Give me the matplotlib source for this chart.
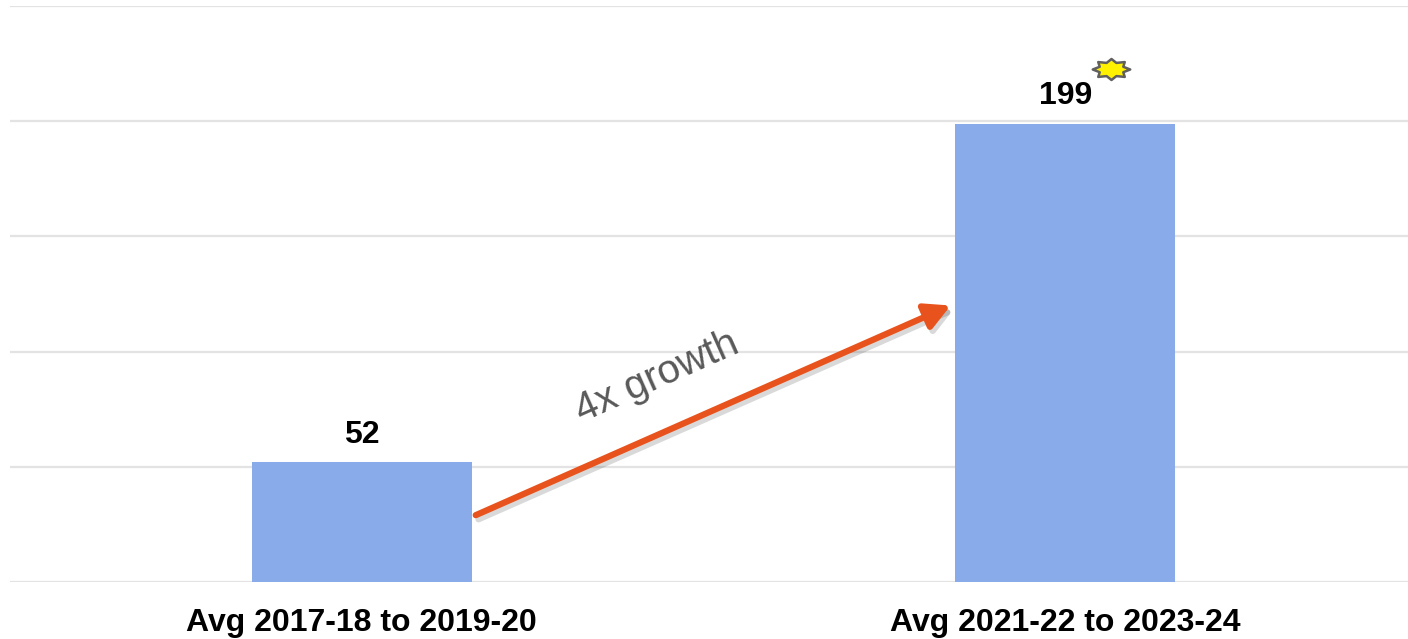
import matplotlib
matplotlib.use("Agg")
import matplotlib.pyplot as plt
import numpy as np
from matplotlib.path import Path
import matplotlib.patheffects as pe

categories = ["Avg 2017-18 to 2019-20", "Avg 2021-22 to 2023-24"]
values = [52, 199]
growth_label = "4x growth"

plt.rcParams['font.family'] = ['Liberation Sans', 'DejaVu Sans']

fig = plt.figure(figsize=(14.08, 6.39), dpi=100)
ax = fig.add_axes([10/1408, 57/639, 1407/1408, 576/639])

x = np.arange(len(categories))
ax.bar(x, values, width=0.3125, color='#8AABEA', zorder=2)
ax.set_xlim(-0.5, 1.5)
ax.set_ylim(0, 250)
ax.set_yticks(np.arange(0, 251, 50))
ax.yaxis.grid(True, color='#E3E3E3', linewidth=1.6, zorder=0)
ax.tick_params(axis='y', left=False, labelleft=False)
ax.tick_params(axis='x', bottom=False, pad=15)
ax.set_xticks(x)
ax.set_xticklabels(categories, fontsize=23, fontweight='bold')
for s in ax.spines.values():
    s.set_visible(False)

for xi, v in zip(x, values):
    ax.annotate(str(v), (xi, v), xytext=(0, 9), textcoords='offset points',
                ha='center', va='bottom', fontsize=23, fontweight='bold')

# growth arrow
ax.annotate('', xy=(0.837, 120), xytext=(0.162, 29),
            arrowprops=dict(arrowstyle='-|>,head_length=1.5,head_width=0.8',
                            color='#E8531D', lw=4.5, shrinkA=0, shrinkB=0,
                            path_effects=[pe.SimpleLineShadow(offset=(2, -3), alpha=0.15), pe.Normal()]),
            zorder=5)
ax.text(0.42, 89, growth_label, rotation=24, fontsize=29, color='#595959',
        ha='center', va='center', rotation_mode='anchor')

# star
n = 8
angles = np.linspace(0, 2*np.pi, 2*n, endpoint=False) + np.pi/2
radii = np.where(np.arange(2*n) % 2 == 0, 1.0, 0.68)
verts = np.column_stack([radii*np.cos(angles), 0.56*radii*np.sin(angles)])
verts = np.vstack([verts, verts[:1]])
codes = [Path.MOVETO] + [Path.LINETO]*(2*n-1) + [Path.CLOSEPOLY]
star = Path(verts, codes)
ax.plot([1.0655], [222.5], marker=star, markersize=27, color='#FFF200',
        markeredgecolor='#606060', markeredgewidth=1.8, clip_on=False, zorder=6)

fig.savefig('out.png', dpi=100)
